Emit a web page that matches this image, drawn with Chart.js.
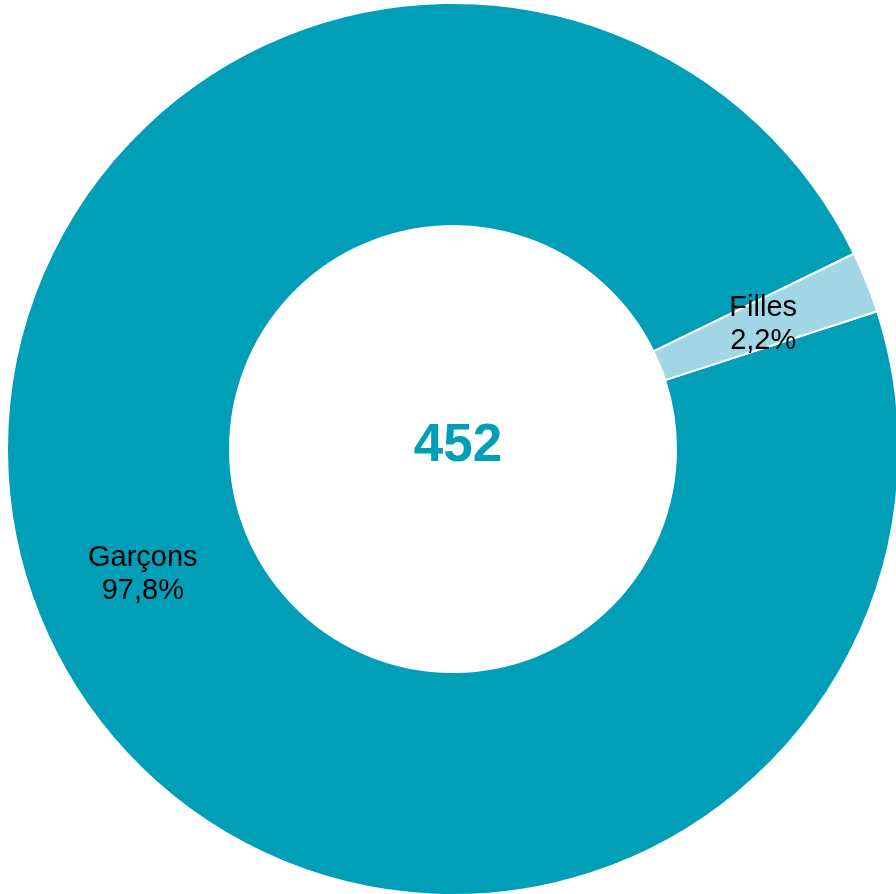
<!DOCTYPE html>
<html>
<head>
<meta charset="utf-8">
<script src="https://cdn.jsdelivr.net/npm/chart.js@4/dist/chart.umd.min.js"></script>
<style>
    html, body { margin: 0; padding: 0; background: #fff; overflow: hidden; }
    #wrap { width: 900px; height: 897px; position: relative; }
</style>
</head>
<body>
<div id="wrap"><canvas id="chart"></canvas></div>
<script>
const labels = ['Garçons', 'Filles'];
const counts = [442, 10];
const colors = ['#009fb7', '#a1d6e6'];

const total = counts.reduce((a, b) => a + b, 0);

function pct(v) {
    return (v / total * 100).toFixed(1).replace('.', ',') + '%';
}

const sliceLabels = {
    id: 'sliceLabels',
    afterDatasetsDraw(chart) {
        const ctx = chart.ctx;
        const meta = chart.getDatasetMeta(0);
        ctx.save();
        ctx.fillStyle = '#000';
        ctx.font = '29px "Liberation Sans", Arial, sans-serif';
        ctx.textAlign = 'center';
        ctx.textBaseline = 'middle';
        meta.data.forEach((arc, i) => {
            const p = arc.tooltipPosition();
            ctx.fillText(labels[i], p.x, p.y - 16);
            ctx.fillText(pct(counts[i]), p.x, p.y + 17);
        });

        // total in the middle
        const c = meta.data[0];
        ctx.fillStyle = colors[0];
        ctx.font = 'bold 53px "Liberation Sans", Arial, sans-serif';
        ctx.fillText(String(total), c.x + 5, c.y - 3);
        ctx.restore();
    }
};

new Chart(document.getElementById('chart').getContext('2d'), {
    type: 'doughnut',
    data: {
        labels: labels,
        datasets: [{
            data: counts,
            backgroundColor: colors,
            borderColor: '#fff',
            borderWidth: 2
        }]
    },
    options: {
        responsive: true,
        maintainAspectRatio: false,
        animation: false,
        cutout: '50%',
        rotation: 72,
        layout: {
            padding: { left: 6, top: 1, right: 0, bottom: 0 }
        },
        plugins: {
            legend: { display: false },
            tooltip: { enabled: false }
        }
    },
    plugins: [sliceLabels]
});
</script>
</body>
</html>
